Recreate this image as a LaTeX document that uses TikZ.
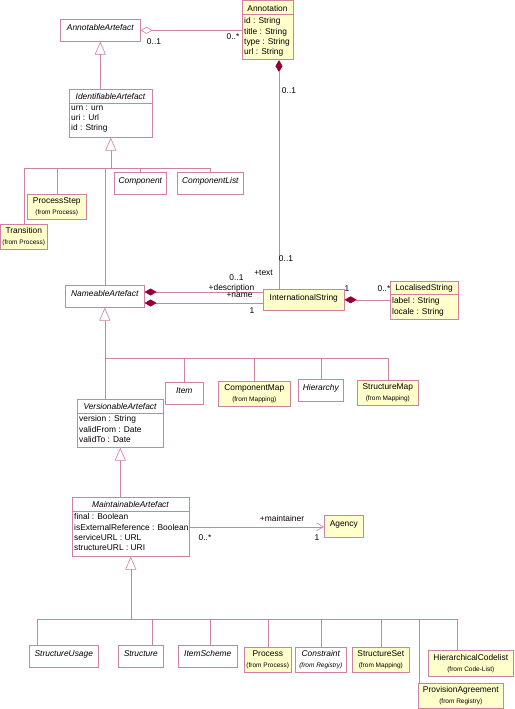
\documentclass[tikz,border=0pt]{standalone}
\usepackage{fontspec}
\setmainfont{Liberation Sans}
\usetikzlibrary{arrows.meta}
\definecolor{umlline}{RGB}{208,128,160}
\definecolor{umlfill}{RGB}{255,255,204}
\definecolor{umldia}{RGB}{145,0,55}
\newcommand\mfont{\fontsize{8.4}{10.3}\selectfont}
\newcommand\sfont{\fontsize{6.5}{7.5}\selectfont}
\begin{document}
\begin{tikzpicture}[x=1pt,y=-1pt,
  cbox/.style={draw=umlline, line width=0.6pt, anchor=north west, inner sep=0pt, font=\mfont, align=center},
  plain/.style={cbox, fill=white},
  yel/.style={cbox, fill=umlfill},
  ital/.style={font=\mfont\itshape},
  one/.style={text height=6pt, text depth=5pt},
  attr/.style={anchor=north west, inner sep=0pt, align=left, font=\mfont},
  hdr/.style={inner sep=0pt, font=\mfont},
  lbl/.style={inner sep=0pt, font=\mfont, text height=6pt, text depth=0pt},
  conn/.style={draw=umlline, line width=0.6pt},
  gen/.style={conn, -{Triangle[open, length=13pt, width=11pt, fill=white]}},
  comp/.style={conn, {Diamond[length=12pt, width=7pt, fill=umldia, color=umldia]}-},
  aggr/.style={conn, {Diamond[open, length=12pt, width=7pt, fill=white]}-},
  assoc/.style={conn, -{Straight Barb[length=7pt, width=8pt]}}
]
\useasboundingbox (0,0) rectangle (514,709);

% ---- classes ----
\node[plain,ital,one,minimum width=80,minimum height=22] (aa) at (60,19) {AnnotableArtefact};

\node[yel,minimum width=51,minimum height=59] (ann) at (242,0.5) {};
\node[hdr] (annh) at (267.5,8) {Annotation};
\draw[conn] ([yshift=-14pt]ann.north west) -- ([yshift=-14pt]ann.north east);
\node[attr] (anna) at (244,17.5) {id : String\\title : String\\type : String\\url : String};

\node[plain,minimum width=83,minimum height=48] (ia) at (69,89) {};
\node[hdr,font=\mfont\itshape] (iah) at (110.5,96) {IdentifiableArtefact};
\draw[conn] ([yshift=-14pt]ia.north west) -- ([yshift=-14pt]ia.north east);
\node[attr] (iaa) at (71,105.5) {urn : urn\\uri : Url\\id : String};

\node[plain,ital,one,minimum width=52,minimum height=22] (cpt) at (114,172) {Component};
\node[plain,ital,one,minimum width=66,minimum height=22] (cl) at (177,172) {ComponentList};
\node[yel,minimum width=59,minimum height=25] (ps) at (27,194) {ProcessStep\\[1pt]\sfont(from Process)};
\node[yel,minimum width=46,minimum height=25] (tr) at (0.5,224) {Transition\\[1pt]\sfont(from Process)};

\node[plain,ital,one,minimum width=79,minimum height=22] (na) at (65,285) {NameableArtefact};
\node[yel,one,minimum width=81,minimum height=21] (is) at (263,289) {InternationalString};

\node[yel,minimum width=68,minimum height=38] (ls) at (390,281) {};
\node[hdr] (lsh) at (424,288) {LocalisedString};
\draw[conn] ([yshift=-13.5pt]ls.north west) -- ([yshift=-13.5pt]ls.north east);
\node[attr] (lsa) at (392,297.5) {label : String\\locale : String};

\node[plain,ital,one,minimum width=38,minimum height=22] (item) at (165,382) {Item};
\node[yel,minimum width=72,minimum height=25] (cm) at (218,381) {ComponentMap\\[1pt]\sfont(from Mapping)};
\node[plain,ital,one,minimum width=45,minimum height=22] (hi) at (298,379) {Hierarchy};
\node[yel,minimum width=61,minimum height=25] (sm) at (357,380) {StructureMap\\[1pt]\sfont(from Mapping)};

\node[plain,minimum width=86,minimum height=48] (va) at (77,399) {};
\node[hdr,font=\mfont\itshape] (vah) at (120,406) {VersionableArtefact};
\draw[conn] ([yshift=-14pt]va.north west) -- ([yshift=-14pt]va.north east);
\node[attr] (vaa) at (79,415.5) {version : String\\validFrom : Date\\validTo : Date};

\node[plain,minimum width=117,minimum height=59] (ma) at (72,497) {};
\node[hdr,font=\mfont\itshape] (mah) at (130.5,504) {MaintainableArtefact};
\draw[conn] ([yshift=-14pt]ma.north west) -- ([yshift=-14pt]ma.north east);
\node[attr] (maa) at (74,513.5) {final : Boolean\\isExternalReference : Boolean\\serviceURL : URL\\structureURL : URI};

\node[yel,one,minimum width=39,minimum height=22] (ag) at (324,515) {Agency};

\node[plain,ital,one,minimum width=69,minimum height=22] (su) at (29,645) {StructureUsage};
\node[plain,ital,one,minimum width=45,minimum height=22] (st) at (118,645) {Structure};
\node[plain,ital,one,minimum width=59,minimum height=22] (isc) at (178,645) {ItemScheme};
\node[yel,minimum width=47,minimum height=25] (pr) at (244,647) {Process\\[1pt]\sfont(from Process)};
\node[plain,ital,minimum width=51,minimum height=25] (co) at (295,647) {Constraint\\[1pt]\sfont(from Registry)};
\node[yel,minimum width=57,minimum height=25] (ss) at (352,647) {StructureSet\\[1pt]\sfont(from Mapping)};
\node[yel,minimum width=85,minimum height=26] (hc) at (428,650) {HierarchicalCodelist\\[1pt]\sfont(from Code-List)};
\node[yel,minimum width=85,minimum height=25] (pa) at (418,683) {ProvisionAgreement\\[1pt]\sfont(from Registry)};

% ---- associations ----
\draw[aggr] (aa.east) -- (aa.east -| ann.west);
\coordinate (cx) at (279,0);
\draw[comp] (ann.south -| cx) -- (is.north -| cx);
\coordinate (ydesc) at (0,292);
\coordinate (yname) at (0,303);
\draw[comp] (na.east |- ydesc) -- (is.west |- ydesc);
\draw[comp] (na.east |- yname) -- (is.west |- yname);
\draw[comp] (is.east) -- (is.east -| ls.west);
\draw[assoc] (ma.east) -- (ma.east -| ag.west);

% ---- generalization tree 1 ----
\coordinate (b1) at (0,168);
\draw[conn] (tr.north |- b1) -- (cl.north |- b1);
\foreach \n in {tr,ps,na,cpt,cl} \draw[conn] (\n.north |- b1) -- (\n.north);
\draw[gen] (ia.south |- b1) -- (ia.south);
\draw[gen] (ia.north -| aa.south) -- (aa.south);

% ---- generalization tree 2 ----
\coordinate (b2) at (0,358);
\draw[conn] (na.south |- b2) -- (sm.north |- b2);
\draw[conn] (na.south |- b2) -- (na.south |- va.north);
\foreach \n in {item,cm,hi,sm} \draw[conn] (\n.north |- b2) -- (\n.north);
\draw[gen] (na.south |- b2) -- (na.south);
\draw[gen] (va.south |- ma.north) -- (va.south);

% ---- generalization tree 3 ----
\coordinate (j1) at (37,619);
\coordinate (j2) at (152,619);
\coordinate (j3) at (210,619);
\coordinate (j7) at (419,619);
\coordinate (j8) at (457,619);
\draw[conn] (j1) -- (j8);
\draw[conn] (j1) -- (j1 |- su.north);
\draw[conn] (j2) -- (j2 |- st.north);
\draw[conn] (j3) -- (j3 |- isc.north);
\foreach \n in {pr,co,ss} \draw[conn] (\n.north |- j1) -- (\n.north);
\draw[conn] (j7) -- (j7 |- pa.north);
\draw[conn] (j8) -- (j8 |- hc.north);
\draw[gen] (ma.south |- j1) -- (ma.south);

% ---- labels ----
\node[lbl] (m1) at (154,42) {0..1};
\node[lbl] (m2) at (233,37) {0..*};
\node[lbl] (m3) at (289,90) {0..1};
\node[lbl] (m4) at (286,258) {0..1};
\node[lbl] (m5) at (263.5,272) {+text};
\node[lbl] (m6) at (236.5,277) {0..1};
\node[lbl] (m7) at (231.5,287) {+description};
\node[lbl] (m8) at (239.5,294) {+name};
\node[lbl] (m9) at (252,310) {1};
\node[lbl] (m10) at (347,288) {1};
\node[lbl] (m11) at (384,288) {0..*};
\node[lbl] (m12) at (282,518) {+maintainer};
\node[lbl] (m13) at (205,537) {0..*};
\node[lbl] (m14) at (317,537) {1};
\end{tikzpicture}
\end{document}
